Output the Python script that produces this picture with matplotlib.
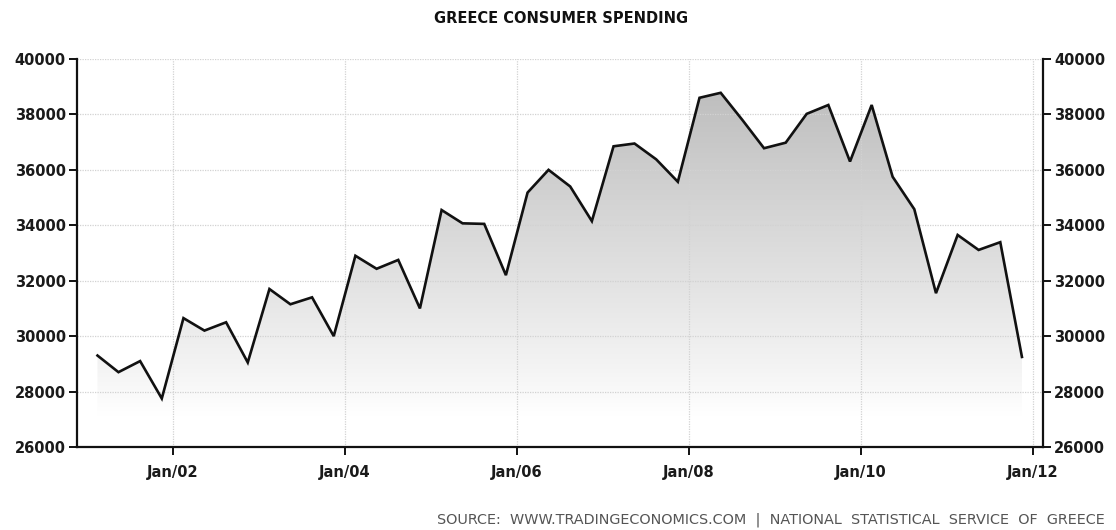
import numpy as np
import pandas as pd
import matplotlib
matplotlib.use("Agg")
import matplotlib.pyplot as plt
import matplotlib.dates as mdates
from matplotlib.colors import LinearSegmentedColormap

# quarterly consumer spending, Q1 2001 - Q4 2011 (mid-quarter dates)
quarters = pd.date_range("2001-02-15", periods=44, freq=pd.DateOffset(months=3))
spending = [29300, 28700, 29100, 27750, 30650, 30200, 30500, 29050,
            31700, 31150, 31400, 30000, 32900, 32430, 32750, 31000,
            34550, 34070, 34050, 32200, 35180, 36000, 35400, 34150,
            36850, 36950, 36380, 35570, 38600, 38780, 37800, 36780,
            36980, 38020, 38340, 36300, 38340, 35750, 34580, 31550,
            33650, 33110, 33390, 29250]
ytick_vals = [26000, 28000, 30000, 32000, 34000, 36000, 38000, 40000]
xtick_years = [2002, 2004, 2006, 2008, 2010, 2012]
xtick_labels = ["Jan/02", "Jan/04", "Jan/06", "Jan/08", "Jan/10", "Jan/12"]

fig = plt.figure(figsize=(11.16, 5.30), dpi=100)
ax = fig.add_axes([0.069, 0.1566, 0.8655, 0.7321])

x = mdates.date2num(quarters)
xmin = mdates.date2num(pd.Timestamp("2000-11-20"))
xmax = mdates.date2num(pd.Timestamp("2012-02-12"))

# vertical gray gradient clipped to the area under the line
cmap = LinearSegmentedColormap.from_list(
    "fade", [(0, "#ffffff"), (0.08, "#ffffff"), (0.2, "#f4f4f4"),
             (0.5, "#dddddd"), (1, "#b8b8b8")])
grad = np.linspace(0, 1, 256).reshape(-1, 1)
poly = ax.fill_between(x, spending, 26000, color="none", lw=0)
img = ax.imshow(grad, cmap=cmap, aspect="auto", origin="lower",
                extent=[xmin, xmax, 26000, 40000], zorder=0.2)
img.set_clip_path(poly.get_paths()[0], transform=ax.transData)

ax.plot(x, spending, color="#111111", lw=1.9, zorder=3, solid_joinstyle="miter")

ax.set_xlim(xmin, xmax)
ax.set_ylim(26000, 40000)
ax.set_yticks(ytick_vals)
ax.set_xticks([mdates.date2num(pd.Timestamp(f"{y}-01-01")) for y in xtick_years])
ax.set_xticklabels(xtick_labels)

ax.set_axisbelow(True)
ax.grid(True, color="#d2d2d2", ls=(0, (1, 1)), lw=0.9)

for s in ["left", "right", "bottom"]:
    ax.spines[s].set_linewidth(1.6)
    ax.spines[s].set_color("#111111")
ax.spines["top"].set_visible(False)

ax.tick_params(axis="both", direction="out", length=6, width=1.4, color="#111111",
               labelsize=10.5, pad=2)
ax.tick_params(axis="y", left=True, right=True, labelleft=True, labelright=True)
ax.tick_params(axis="x", pad=7)
for lab in ax.get_xticklabels() + ax.get_yticklabels():
    lab.set_fontweight("bold")
    lab.set_color("#1a1a1a")
for t in ax.yaxis.get_major_ticks():
    t.label2.set_fontweight("bold")
    t.label2.set_color("#1a1a1a")

fig.text(0.503, 0.965, "GREECE CONSUMER SPENDING", ha="center", va="center",
         fontsize=10.5, fontweight="bold", color="#111111")
fig.text(0.99, 0.02, "SOURCE:  WWW.TRADINGECONOMICS.COM  |  NATIONAL  STATISTICAL  SERVICE  OF  GREECE",
         ha="right", va="center", fontsize=10.4, color="#555555")

fig.savefig("out.png", dpi=100)
